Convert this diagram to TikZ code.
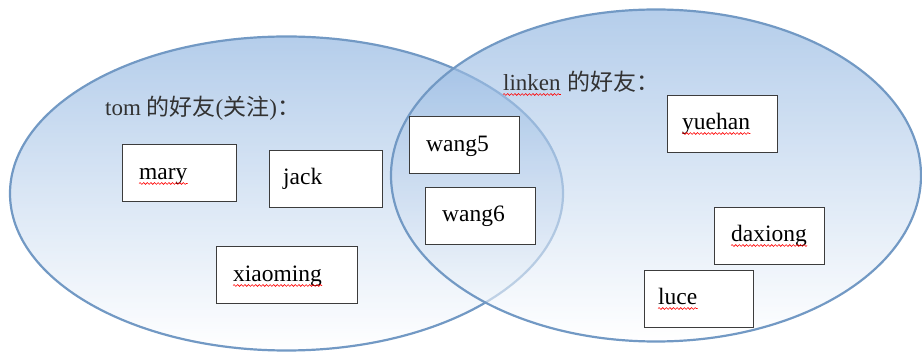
\documentclass[tikz,border=0pt]{standalone}
\usepackage{fontspec}
\setmainfont{Liberation Serif}
\newfontfamily\cjk{Noto Sans CJK SC}
\usetikzlibrary{decorations.pathmorphing}
\definecolor{edgeblue}{RGB}{114,153,196}
\definecolor{fillblue}{RGB}{135,175,222}
\definecolor{boxline}{RGB}{60,60,60}
\definecolor{labeltext}{RGB}{50,50,50}
\begin{document}
\begin{tikzpicture}[x=1pt,y=-1pt,
  circ/.style={draw=edgeblue, line width=2.2pt, top color=fillblue, bottom color=white, fill opacity=0.62, draw opacity=1},
  box/.style={draw=boxline, line width=1.2pt, fill=white, anchor=north west, minimum height=57pt, inner sep=0pt},
  word/.style={anchor=base west, inner sep=0pt, text=black, font=\rmfamily\fontsize{23.5}{27}\selectfont},
  lab/.style={anchor=base west, inner sep=0pt, text=labeltext, font=\rmfamily\fontsize{23}{27}\selectfont},
  wavy/.style={draw=red, line width=0.6pt, decorate, decoration={snake, amplitude=0.9pt, segment length=3.6pt}}
]
\useasboundingbox (0,0) rectangle (922,352);
% sets
\path[circ] (286.5,193.5) ellipse [x radius=276.5, y radius=157];
\path[circ] (656,175.5) ellipse [x radius=265, y radius=166];
% labels
\node[lab] (tom) at (105,116) {tom {\cjk 的好友}({\cjk 关注}){\cjk ：}};
\node[lab] (linken) at (503,91) {linken};
\node[lab] (linkencn) at ([xshift=6pt]linken.base east) {\cjk 的好友：};
% boxes
\node[box, minimum width=114pt] (mary) at (122,144) {};
\node[box, minimum width=113pt] (jack) at (269,150) {};
\node[box, minimum width=141pt] (xiaoming) at (216,246) {};
\node[box, minimum width=110pt] (wang5) at (409,116) {};
\node[box, minimum width=110pt] (wang6) at (425,187) {};
\node[box, minimum width=110pt] (yuehan) at (667,95) {};
\node[box, minimum width=110pt] (daxiong) at (714,207) {};
\node[box, minimum width=109pt] (luce) at (644,270) {};
% words
\node[word] (maryt) at (139,180) {mary};
\node[word] (jackt) at (283,185) {jack};
\node[word] (xiaomingt) at (233,282) {xiaoming};
\node[word] (wang5t) at (426,152) {wang5};
\node[word] (wang6t) at (442,222) {wang6};
\node[word] (yuehant) at (682,130) {yuehan};
\node[word] (daxiongt) at (731,242) {daxiong};
\node[word] (lucet) at (658,305) {luce};
% spell-check underlines
\foreach \w in {maryt,xiaomingt,yuehant,daxiongt,lucet,linken}
  \path[wavy] ([yshift=-3.5pt]\w.base west) -- ([yshift=-3.5pt]\w.base east);
\end{tikzpicture}
\end{document}
